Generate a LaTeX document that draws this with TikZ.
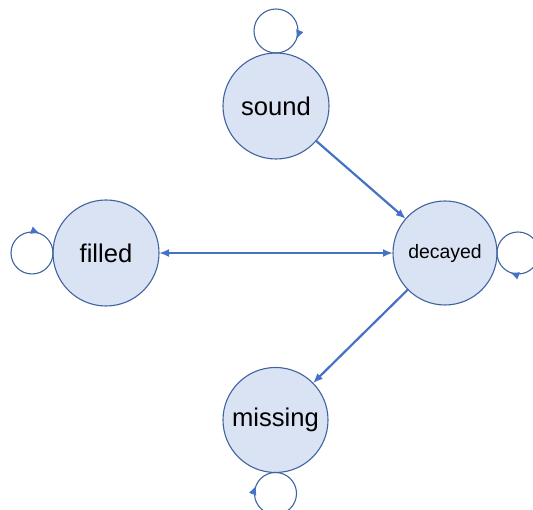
\documentclass[tikz,border=0pt]{standalone}
\usepackage{fontspec}
\setmainfont{Liberation Sans}
\usetikzlibrary{arrows.meta,decorations.markings}
\definecolor{statefill}{HTML}{DAE3F3}
\definecolor{stateline}{HTML}{41649E}
\definecolor{edgeblue}{HTML}{4472C4}
\tikzset{
  state/.style={circle, draw=stateline, fill=statefill, line width=1.1bp,
    minimum size=106bp, inner sep=0pt, outer sep=0pt, text=black,
    font=\fontsize{25.7}{30}\selectfont},
  smalltext/.style={font=\fontsize{19.5}{23}\selectfont},
  trans/.style={draw=edgeblue, line width=2.2bp,
    arrows={-Latex[length=10bp,width=8bp]}},
  biway/.style={draw=edgeblue, line width=2.2bp,
    arrows={Latex[length=10bp,width=8bp]-Latex[length=10bp,width=8bp]}},
  selfloop/.style={draw=stateline, line width=1.1bp,
    postaction={decorate},
    decoration={markings, mark=at position 0.81 with
      {\arrow[edgeblue]{Latex[length=9bp,width=8bp]}}}}
}
\begin{document}
\begin{tikzpicture}[x=1bp,y=1bp]
  \useasboundingbox (0,0) rectangle (533,510);
  \clip (0,0) rectangle (533,510);
  % states
  \node[state] (sound)   at (276,404) {sound};
  \node[state] (filled)  at (106,257) {filled};
  \node[state, minimum size=104bp, smalltext] (decayed) at (445,257) {decayed};
  \node[state, minimum size=105bp] (missing) at (275.5,90) {missing};
  % transitions
  \draw[trans] (sound) -- (decayed);
  \draw[biway] (filled) -- (decayed);
  \draw[trans] (decayed) -- (missing);
  % self loops, all running clockwise
  \draw[selfloop] (sound.north)   arc[start angle=-90, end angle=-450, radius=22];
  \draw[selfloop] (filled.west)   arc[start angle=0,   end angle=-360, radius=21];
  \draw[selfloop] (decayed.east)  arc[start angle=180, end angle=-180, radius=21];
  \draw[selfloop] (missing.south) arc[start angle=90,  end angle=-270, radius=21];
\end{tikzpicture}
\end{document}
